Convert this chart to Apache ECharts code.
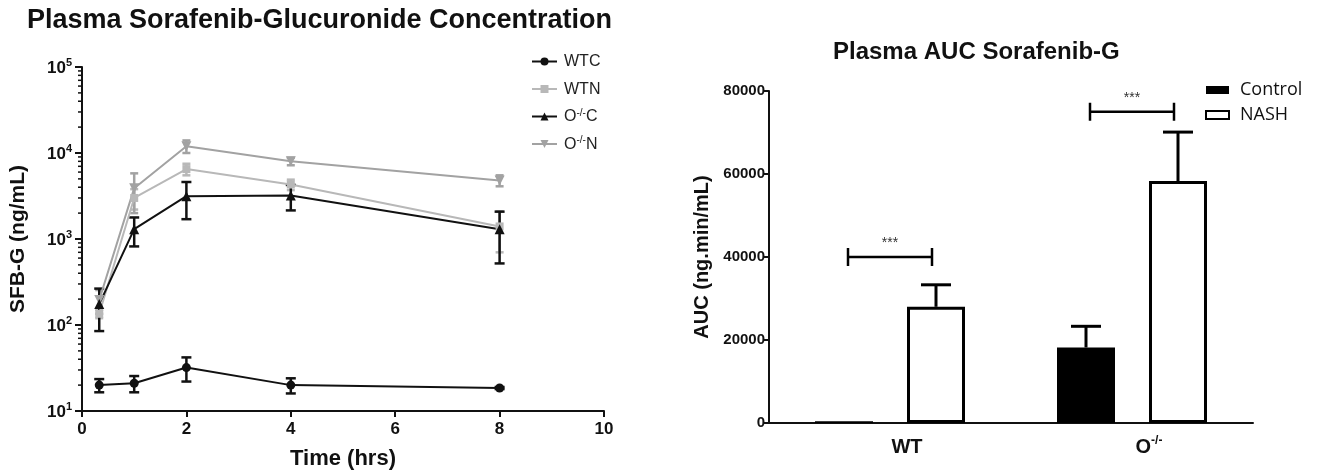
<!DOCTYPE html>
<html lang="en">
<head>
<meta charset="UTF-8">
<title>Plasma Sorafenib-Glucuronide</title>
<script src="https://cdn.jsdelivr.net/npm/echarts@6/dist/echarts.min.js"></script>
<style>html,body{margin:0;background:#fff}#main{width:1325px;height:475px}</style>
</head>
<body>
<div id="main"></div>
<script>
// left panel: concentration time course (mean, sem)
var times = [0.33, 1, 2, 4, 8];
var wtcMean = [20, 21, 32, 20, 18.5];
var wtcSem = [3.5, 4.5, 10, 4, 0.5];
var wtnMean = [135, 3000, 6500, 4300, 1400];
var wtnSem = [15, 800, 1000, 600, 700];
var kocMean = [175, 1300, 3150, 3200, 1300];
var kocSem = [90, 480, 1450, 1050, 780];
var konMean = [195, 3900, 12000, 8000, 4800];
var konSem = [60, 1900, 2000, 800, 700];
var minorTicks = [20, 30, 40, 50, 60, 70, 80, 90,
    200, 300, 400, 500, 600, 700, 800, 900,
    2000, 3000, 4000, 5000, 6000, 7000, 8000, 9000,
    20000, 30000, 40000, 50000, 60000, 70000, 80000, 90000];

// right panel: AUC bars
var groups = ['WT', 'O-/-'];
var controlMean = [400, 18200];
var controlSem = [0, 5100];
var nashMean = [28000, 58300];
var nashSem = [5300, 11800];
var sigLevel = [40000, 75000];

var FONT = "'Liberation Sans', Arial, sans-serif";
var BLACK = '#111';
var GRAY1 = '#b8b8b8';
var GRAY2 = '#a2a2a2';
var BAR_W = 58, BAR_GAP = 34;

function errData(mean, sem) {
    return times.map(function (t, i) { return [t, mean[i] - sem[i], mean[i] + sem[i]]; });
}
function pts(mean) {
    return times.map(function (t, i) { return [t, mean[i]]; });
}
function errRender(color, cap) {
    return function (params, api) {
        var lo = api.coord([api.value(0), api.value(1)]);
        var hi = api.coord([api.value(0), api.value(2)]);
        var st = {stroke: color, lineWidth: 2.5};
        return {type: 'group', children: [
            {type: 'line', shape: {x1: lo[0], y1: lo[1], x2: hi[0], y2: hi[1]}, style: st},
            {type: 'line', shape: {x1: lo[0] - cap, y1: lo[1], x2: lo[0] + cap, y2: lo[1]}, style: st},
            {type: 'line', shape: {x1: hi[0] - cap, y1: hi[1], x2: hi[0] + cap, y2: hi[1]}, style: st}
        ]};
    };
}
function errSeries(mean, sem, color, cap) {
    return {type: 'custom', xAxisIndex: 0, yAxisIndex: 0, data: errData(mean, sem),
        renderItem: errRender(color, cap), z: 3, silent: true};
}
function lineSeries(name, mean, color, symbol, size, rot) {
    return {name: name, type: 'line', xAxisIndex: 0, yAxisIndex: 0, data: pts(mean),
        symbol: symbol, symbolSize: size, symbolRotate: rot || 0,
        lineStyle: {color: color, width: 2}, itemStyle: {color: color}, z: 4, animation: false};
}
function barErr(mean, sem, side) {
    return {type: 'custom', xAxisIndex: 1, yAxisIndex: 1, z: 1, silent: true,
        data: mean.map(function (m, i) { return [i, m, sem[i]]; }),
        renderItem: function (params, api) {
            if (!api.value(2)) return null;
            var off = side * (BAR_W + BAR_GAP) / 2;
            var b = api.coord([api.value(0), api.value(1)]);
            var t = api.coord([api.value(0), api.value(1) + api.value(2)]);
            var st = {stroke: '#000', lineWidth: 3};
            return {type: 'group', children: [
                {type: 'line', shape: {x1: b[0] + off, y1: b[1], x2: b[0] + off, y2: t[1]}, style: st},
                {type: 'line', shape: {x1: b[0] + off - 15, y1: t[1], x2: b[0] + off + 15, y2: t[1]}, style: st}
            ]};
        }};
}
function supLabel(v) {
    return '{b|10}{s|' + Math.round(Math.log10(v)) + '}';
}

var chart = echarts.init(document.getElementById('main'));
chart.setOption({
    animation: false,
    title: [
        {text: 'Plasma Sorafenib-Glucuronide Concentration', left: 22, top: 2,
            textStyle: {fontFamily: FONT, fontSize: 27, fontWeight: 'bold', color: BLACK}},
        {text: 'Plasma AUC Sorafenib-G', left: 828, top: 35,
            textStyle: {fontFamily: FONT, fontSize: 24, fontWeight: 'bold', color: BLACK}}
    ],
    legend: [
        {data: ['WTC', 'WTN', 'O-/-C', 'O-/-N'], orient: 'vertical', left: 526, top: 48,
            itemWidth: 25, itemHeight: 10, itemGap: 10.5,
            textStyle: {fontFamily: FONT, fontSize: 16, color: '#222', lineHeight: 17, padding: [0, 0, 0, 2],
                rich: {n: {fontFamily: FONT, fontSize: 16, color: '#222', lineHeight: 17, verticalAlign: 'bottom'},
                    s: {fontFamily: FONT, fontSize: 10, color: '#222', lineHeight: 10, verticalAlign: 'top'}}},
            formatter: function (name) {
                if (name.indexOf('O') === 0) return '{n|O}{s|-/-}{n|' + name.slice(-1) + '}';
                return '{n|' + name + '}';
            }},
        {data: ['Control', 'NASH'], orient: 'vertical', left: 1200, top: 76,
            itemWidth: 23, itemHeight: 8, itemGap: 7, icon: 'rect',
            textStyle: {fontFamily: "'Open Sans', 'Noto Sans', sans-serif", fontSize: 18, color: BLACK,
                lineHeight: 18, padding: [0, 0, 0, 6]}}
    ],
    grid: [
        {left: 82, top: 67, width: 522, height: 347},
        {left: 769, top: 91, width: 484, height: 332}
    ],
    xAxis: [
        {type: 'value', gridIndex: 0, min: 0, max: 10, interval: 2,
            axisLine: {lineStyle: {color: BLACK, width: 2}},
            axisTick: {length: 6, lineStyle: {color: BLACK, width: 2}},
            splitLine: {show: false},
            axisLabel: {fontFamily: FONT, fontSize: 17, fontWeight: 'bold', color: BLACK, margin: 10},
            name: 'Time (hrs)', nameLocation: 'middle', nameGap: 37,
            nameTextStyle: {fontFamily: FONT, fontSize: 22, fontWeight: 'bold', color: BLACK}},
        {type: 'category', gridIndex: 1, data: groups,
            axisLine: {lineStyle: {color: BLACK, width: 2}},
            axisTick: {alignWithLabel: true, length: 4, lineStyle: {color: BLACK, width: 2}},
            axisLabel: {margin: 12, padding: [0, 0, 0, 34],
                formatter: function (v) { return v === 'WT' ? '{b|WT}' : '{b|O}{s|-/-}'; },
                rich: {b: {fontFamily: FONT, fontSize: 20, fontWeight: 'bold', color: BLACK, lineHeight: 22, verticalAlign: 'bottom'},
                    s: {fontFamily: FONT, fontSize: 12, fontWeight: 'bold', color: BLACK, lineHeight: 12, verticalAlign: 'top'}}}}
    ],
    yAxis: [
        {type: 'log', gridIndex: 0, logBase: 10, min: 10, max: 100000,
            axisLine: {show: true, lineStyle: {color: BLACK, width: 2}},
            axisTick: {show: true, length: 7, lineStyle: {color: BLACK, width: 2}},
            splitLine: {show: false},
            axisLabel: {margin: 10, formatter: supLabel,
                rich: {b: {fontFamily: FONT, fontSize: 17, fontWeight: 'bold', color: BLACK, lineHeight: 20, verticalAlign: 'bottom'},
                    s: {fontFamily: FONT, fontSize: 11, fontWeight: 'bold', color: BLACK, lineHeight: 11, verticalAlign: 'top'}}},
            name: 'SFB-G (ng/mL)', nameLocation: 'middle', nameGap: 53,
            nameTextStyle: {fontFamily: FONT, fontSize: 21, fontWeight: 'bold', color: BLACK}},
        {type: 'value', gridIndex: 1, min: 0, max: 80000, interval: 20000,
            axisLine: {show: true, lineStyle: {color: BLACK, width: 2}},
            axisTick: {show: true, length: 5, lineStyle: {color: BLACK, width: 2}},
            splitLine: {show: false},
            axisLabel: {fontFamily: FONT, fontSize: 15, fontWeight: 'bold', color: BLACK, margin: 4,
                formatter: function (v) { return String(v); }},
            name: 'AUC (ng.min/mL)', nameLocation: 'middle', nameGap: 57,
            nameTextStyle: {fontFamily: FONT, fontSize: 20, fontWeight: 'bold', color: BLACK}}
    ],
    series: [
        {type: 'custom', xAxisIndex: 0, yAxisIndex: 0, silent: true, clip: false,
            data: minorTicks.map(function (v) { return [0, v]; }),
            renderItem: function (params, api) {
                var p = api.coord([0, api.value(1)]);
                return {type: 'line', shape: {x1: p[0] - 4, y1: p[1], x2: p[0], y2: p[1]},
                    style: {stroke: BLACK, lineWidth: 1.5}};
            }},
        errSeries(wtnMean, wtnSem, GRAY1, 4),
        errSeries(konMean, konSem, GRAY2, 4),
        lineSeries('WTN', wtnMean, GRAY1, 'rect', 8),
        lineSeries('O-/-N', konMean, GRAY2, 'triangle', 10, 180),
        errSeries(wtcMean, wtcSem, BLACK, 5),
        errSeries(kocMean, kocSem, BLACK, 5),
        lineSeries('WTC', wtcMean, BLACK, 'circle', 9),
        lineSeries('O-/-C', kocMean, BLACK, 'triangle', 10),
        {name: 'Control', type: 'bar', xAxisIndex: 1, yAxisIndex: 1, data: controlMean,
            barWidth: BAR_W, barGap: (BAR_GAP / BAR_W * 100) + '%', z: 2,
            itemStyle: {color: '#000', borderColor: '#000', borderWidth: 0}},
        {name: 'NASH', type: 'bar', xAxisIndex: 1, yAxisIndex: 1, data: nashMean,
            barWidth: BAR_W, z: 2,
            itemStyle: {color: '#fff', borderColor: '#000', borderWidth: 3}},
        barErr(controlMean, controlSem, -1),
        barErr(nashMean, nashSem, 1),
        {type: 'custom', xAxisIndex: 1, yAxisIndex: 1, silent: true, z: 3,
            data: sigLevel.map(function (v, i) { return [i, v]; }),
            renderItem: function (params, api) {
                var c = api.coord([api.value(0), api.value(1)]);
                var st = {stroke: '#000', lineWidth: 2.5};
                return {type: 'group', children: [
                    {type: 'line', shape: {x1: c[0] - 42, y1: c[1], x2: c[0] + 42, y2: c[1]}, style: st},
                    {type: 'line', shape: {x1: c[0] - 42, y1: c[1] - 9, x2: c[0] - 42, y2: c[1] + 9}, style: st},
                    {type: 'line', shape: {x1: c[0] + 42, y1: c[1] - 9, x2: c[0] + 42, y2: c[1] + 9}, style: st},
                    {type: 'text', style: {text: '***', x: c[0], y: c[1] - 14, align: 'center', verticalAlign: 'middle',
                        font: "14px 'Liberation Sans', Arial, sans-serif", fill: '#333'}}
                ]};
            }}
    ]
});
</script>
</body>
</html>
